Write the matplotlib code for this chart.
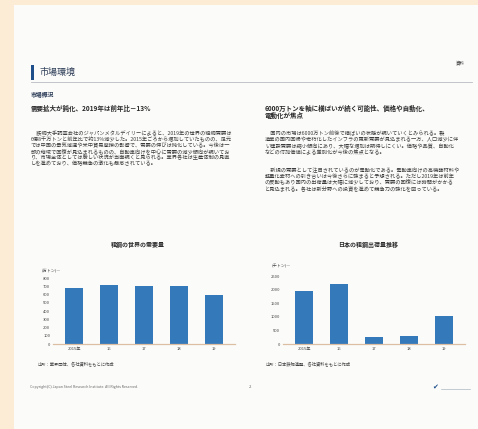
import matplotlib
matplotlib.use("Agg")
import matplotlib.pyplot as plt
from matplotlib.patches import Rectangle

plt.rcParams['font.family'] = ['Noto Sans CJK JP', 'DejaVu Sans']

W, H = 478, 429

# chart data
years = ["2015年", "16", "17", "18", "19"]
world_demand = [680, 722, 706, 700, 602]
world_ticks = [0, 100, 200, 300, 400, 500, 600, 700, 800]
japan_demand = [1950, 2230, 250, 280, 1020]
japan_ticks = [0, 500, 1000, 1500, 2000, 2500]

left_head = "需要拡大が鈍化、2019年は前年比－13%"
right_head = ["6000万トンを軸に横ばいが続く可能性、価格や自動化、",
              "電動化が焦点"]
left_body = [
    "　鉄鋼大手調査会社のジャパンメタルデイリーによると、2019年の世界の粗鋼需要は",
    "6億8千万トンと前年比で約13%減少した。2015年ごろから増加していたものの、足元",
    "では中国の景気減速や米中貿易摩擦の影響で、需要の伸びは鈍化している。今後は一",
    "部の地域で回復が見込まれるものの、自動車向けを中心に需要の減少傾向が続いてお",
    "り、市場全体としては厳しい状況が当面続くと見られる。業界各社は生産体制の見直",
    "しを進めており、価格競争の激化も懸念されている。",
]
right_body1 = [
    "　国内の市場は6000万トン前後で横ばいの状態が続いていくとみられる。製",
    "造業の国内回帰や老朽化したインフラの更新需要が見込まれる一方、人口減少に伴",
    "い建設需要は縮小傾向にあり、大幅な増加は期待しにくい。価格や品質、自動化",
    "などの付加価値による差別化が今後の焦点となる。",
]
right_body2 = [
    "　新規の需要として注目されているのが電動化である。電動車向けの高機能材料や",
    "軽量化素材への引き合いは今後さらに強まると予想される。ただし2019年は前年",
    "の反動もあり国内の出荷量は大幅に減少しており、需要の回復には時間がかかる",
    "と見込まれる。各社は新分野への投資を進めて競争力の強化を図っている。",
]
world_title = "粗鋼の世界の需要量"
japan_title = "日本の粗鋼出荷量推移"
world_note = "出所：業界団体、各社資料をもとに作成"
japan_note = "出所：日本鉄鋼連盟、各社資料をもとに作成"


def fx(x):
    return x / W


def fy(y):
    return 1 - y / H


fig = plt.figure(figsize=(W / 100, H / 100), dpi=100, facecolor="#fcecd6")

# page
fig.patches.append(Rectangle((fx(14), 0), 1 - fx(14), fy(5), transform=fig.transFigure,
                             facecolor="#fbfbfa", edgecolor="none", zorder=-10))

txt = "#3a3a3a"
body = "#3c3c3c"
fig.text(fx(465), fy(63), "資料", fontsize=3.2, color=txt, ha="right", va="center")
fig.patches.append(Rectangle((fx(31), fy(80)), fx(3), fy(65) - fy(80), transform=fig.transFigure,
                             facecolor="#1f4f8a", edgecolor="none"))
fig.text(fx(39), fy(72.5), "市場環境", fontsize=6.5, color="#2a3a55", ha="left", va="center")
fig.lines.append(plt.Line2D([fx(31), fx(472)], [fy(82), fy(82)], transform=fig.transFigure,
                            color="#b8bcc2", lw=0.6))
fig.text(fx(31), fy(94.5), "市場概況", fontsize=4.2, color="#2a3a55", ha="left", va="center",
         fontweight="bold")
fig.text(fx(31), fy(108), left_head, fontsize=4.7, color="#2a2a2a", ha="left", va="center",
         fontweight="bold")
for i, s in enumerate(right_head):
    fig.text(fx(265), fy(108 + 7.5 * i), s, fontsize=4.7, color="#2a2a2a", ha="left",
             va="center", fontweight="bold")

for i, s in enumerate(left_body):
    fig.text(fx(31), fy(133 + 6.1 * i), s, fontsize=3.75, color=body, ha="left", va="center")
for i, s in enumerate(right_body1):
    fig.text(fx(265), fy(133 + 6.6 * i), s, fontsize=3.75, color=body, ha="left", va="center")
for i, s in enumerate(right_body2):
    fig.text(fx(265), fy(170 + 6.4 * i), s, fontsize=3.75, color=body, ha="left", va="center")

bar_color = "#3479ba"
base_color = "#dcbfa2"


def bar_chart(left, right, top, bottom, vals, ticks, ymax, title, note, unit, title_x, note_x):
    ax = fig.add_axes([fx(left), fy(bottom), fx(right) - fx(left), fy(top) - fy(bottom)])
    ax.set_facecolor("none")
    ax.bar(range(len(vals)), vals, width=0.52, color=bar_color, zorder=2)
    ax.set_xlim(-0.6, len(vals) - 0.4)
    ax.set_ylim(0, ymax)
    ax.set_yticks(ticks)
    ax.set_yticklabels([str(t) for t in ticks])
    ax.set_xticks(range(len(vals)))
    ax.set_xticklabels(years)
    ax.tick_params(length=0, labelsize=3.0, labelcolor="#444444", pad=2)
    for sp in ["top", "right", "left"]:
        ax.spines[sp].set_visible(False)
    ax.spines["bottom"].set_color(base_color)
    ax.spines["bottom"].set_linewidth(0.9)
    ax.text(-0.06, 1.0, unit + "—", transform=ax.transAxes, fontsize=3.0, color="#444444",
            ha="left", va="center")
    fig.text(fx(title_x), fy(244.5), title, fontsize=4.3, color="#2a2a2a", ha="center",
             va="center", fontweight="bold")
    fig.text(fx(note_x), fy(364), note, fontsize=3.1, color="#444444", ha="left", va="center")


bar_chart(53, 235, 270, 344, world_demand, world_ticks, 900, world_title, world_note,
          "(万トン)", 138, 37)
bar_chart(283, 465, 266, 344, japan_demand, japan_ticks, 2880, japan_title, japan_note,
          "(千トン)", 368, 266)

# footer
fig.text(fx(30), fy(387), "Copyright(C) Japan Steel Research Institute. All Rights Reserved.",
         fontsize=2.6, color="#666666", ha="left", va="center")
fig.text(fx(250), fy(387), "2", fontsize=3.0, color="#666666", ha="center", va="center")
fig.text(fx(432), fy(387), "✔", fontsize=5, color="#1f4f8a", ha="left", va="center")
fig.lines.append(plt.Line2D([fx(441), fx(470)], [fy(389), fy(389)], transform=fig.transFigure,
                            color="#9aa5b5", lw=0.4))

fig.savefig("out.png", dpi=100, facecolor=fig.get_facecolor())
